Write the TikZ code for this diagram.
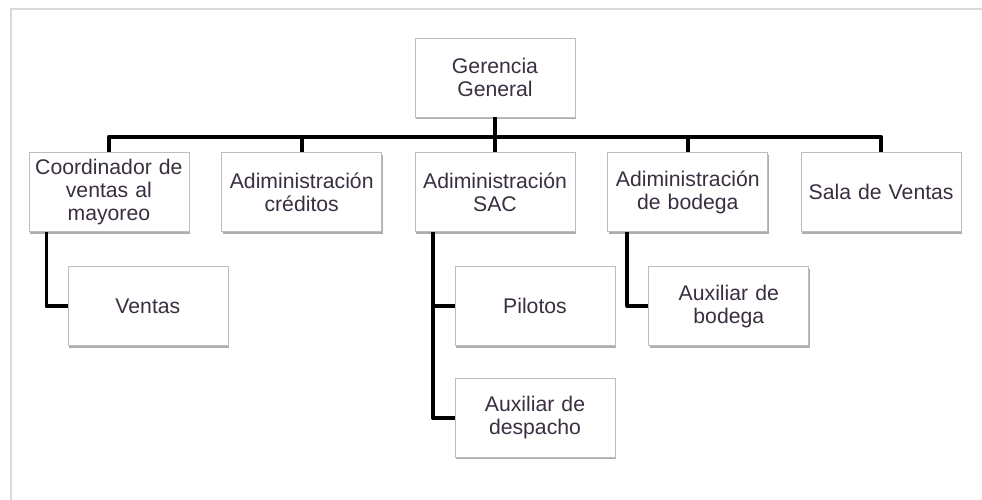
\documentclass[tikz,border=0pt]{standalone}
\usepackage{fontspec}
\setmainfont{Liberation Sans}
\usepackage{xcolor}
\definecolor{orgText}{HTML}{3A2E40}
\definecolor{orgBorder}{HTML}{BDBDBD}
\definecolor{orgShadow}{HTML}{8C8C8C}
\definecolor{orgFrame}{HTML}{DADADA}
\usetikzlibrary{positioning, shadows, calc}

\begin{document}
\begin{tikzpicture}[
    x=1pt, y=-1pt,
    every node/.style={font=\fontsize{21.2}{23}\selectfont},
    unit/.style={rectangle, draw=orgBorder, line width=0.8pt, fill=white, minimum width=160pt, minimum height=79pt, text width=158pt, align=center, inner sep=1pt, text=orgText, drop shadow={shadow xshift=1pt, shadow yshift=-2pt, fill=orgShadow, opacity=0.7}},
    link/.style={line width=3.9pt, draw=black, line join=round},
]
\useasboundingbox (0,0) rectangle (982,500);

% ====== FRAME ======
\draw[orgFrame, line width=1.6pt] (11,500) -- (11,9) -- (982,9);

% ====== TOP ======
\node[unit] (gerencia) at (495,77.5) {Gerencia\\General};

% ====== FIRST LEVEL ======
\node[unit, below=35pt of gerencia] (sac) {Adiministración\\SAC};
\node[unit, left=32.5pt of sac] (creditos) {Adiministración\\créditos};
\node[unit, left=32pt of creditos] (coordinador) {Coordinador de\\ventas al\\mayoreo};
\node[unit, right=32pt of sac] (bodega) {Adiministración\\de bodega};
\node[unit, right=32.5pt of bodega] (sala) {Sala de Ventas};

% ====== SECOND LEVEL ======
\node[unit, below=34pt of coordinador.south west, anchor=north west, xshift=39pt] (ventas) {Ventas};
\node[unit, below=34pt of sac.south west, anchor=north west, xshift=40pt] (pilotos) {Pilotos};
\node[unit, below=32pt of pilotos] (despacho) {Auxiliar de\\despacho};
\node[unit, below=34pt of bodega.south west, anchor=north west, xshift=41pt] (auxbodega) {Auxiliar de\\bodega};

% --- bus ---
\coordinate (bus) at ($(gerencia.south)!0.55!(sac.north)$);
\draw[link] (gerencia.south) -- (sac.north);
\draw[link] (coordinador.north) |- (bus) -| (sala.north);
\foreach \n in {creditos, bodega}
    \draw[link] (\n.north) -- (\n.north |- bus);

% --- branches ---
\draw[link] ([xshift=18pt]coordinador.south west) |- (ventas.west);
\draw[link] ([xshift=18pt]sac.south west) |- (despacho.west);
\draw[link] ([xshift=18pt]sac.south west) |- (pilotos.west);
\draw[link] ([xshift=20pt]bodega.south west) |- (auxbodega.west);

\end{tikzpicture}
\end{document}
